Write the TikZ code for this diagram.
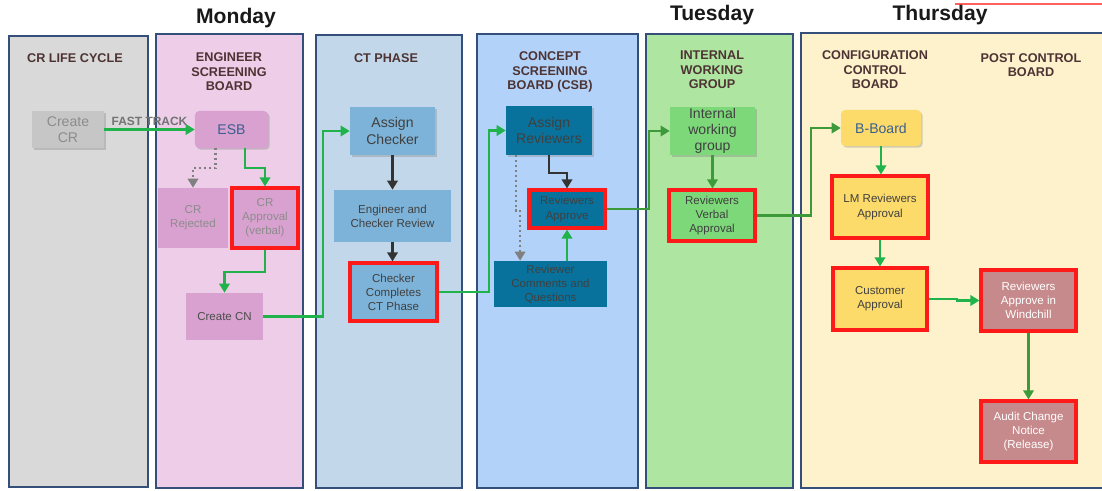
\documentclass[tikz,border=0pt]{standalone}
\usepackage{fontspec}
\setmainfont{Liberation Sans}
\usetikzlibrary{arrows.meta,shadows}

\definecolor{laneedge}{HTML}{34507A}
\definecolor{lanegray}{HTML}{D9D9D9}
\definecolor{lanepink}{HTML}{EDCDE8}
\definecolor{lanect}{HTML}{C3D7EB}
\definecolor{lanecsb}{HTML}{B2D2FA}
\definecolor{laneiwg}{HTML}{AEE5A0}
\definecolor{lanethu}{HTML}{FDF2CC}
\definecolor{titlebrown}{HTML}{4D3333}
\definecolor{nodegray}{HTML}{C6C6C6}
\definecolor{nodepink}{HTML}{D9A1D0}
\definecolor{nodeblue}{HTML}{7DB3D8}
\definecolor{nodeteal}{HTML}{08729C}
\definecolor{nodegreen}{HTML}{7DD87A}
\definecolor{nodeyellow}{HTML}{FCDB6B}
\definecolor{noderose}{HTML}{C78A8C}
\definecolor{hotred}{HTML}{FF1A1A}
\definecolor{arrowgreen}{HTML}{20B24B}
\definecolor{arrowdkgreen}{HTML}{3D9A3A}
\definecolor{arrowdark}{HTML}{333333}
\definecolor{esbtext}{HTML}{3A5F8F}

\begin{document}
\begin{tikzpicture}[x=0.025cm,y=-0.025cm,>={Triangle[width=7.5pt,length=6.5pt]},
    lane/.style={draw=laneedge,line width=0.9pt,drop shadow={shadow xshift=1pt,shadow yshift=-1pt,opacity=0.3}},
    title/.style={text=titlebrown,font=\bfseries\fontsize{9}{10.3}\selectfont,align=center},
    day/.style={font=\bfseries\fontsize{15}{16}\selectfont,text=black!90},
    box/.style={align=center,inner sep=1pt,font=\fontsize{8.2}{10}\selectfont},
    bigbox/.style={box,font=\fontsize{10}{11.5}\selectfont},
    hot/.style={draw=hotred,line width=2.2pt},
    shade/.style={drop shadow={shadow xshift=1.2pt,shadow yshift=-1.2pt,opacity=0.35}},
    gline/.style={->,draw=arrowgreen,line width=1.5pt},
    dgline/.style={->,draw=arrowdkgreen,line width=1.5pt},
    kline/.style={->,draw=arrowdark,line width=1.5pt},
    dotline/.style={->,draw=gray,line width=1.5pt,dotted}]

  \useasboundingbox (0,0) rectangle (1102,491);
  \draw[hotred!70,line width=0.8pt] (955,4) -- (1102,4);

  % swim lanes
  \path[lane,fill=lanegray] (9,36) rectangle (148,487);
  \path[lane,fill=lanepink] (156,34) rectangle (303,488);
  \path[lane,fill=lanect] (316,35) rectangle (462,488);
  \path[lane,fill=lanecsb] (477,34) rectangle (638,488);
  \path[lane,fill=laneiwg] (646,34) rectangle (793,488);
  \path[lane,fill=lanethu] (801,33) rectangle (1110,488);

  % days
  \node[day] (mon) at (236,18) {Monday};
  \node[day] (tue) at (712,15) {Tuesday};
  \node[day] (thu) at (940,15) {Thursday};

  % lane titles
  \node[title] (tcr) at (75,58) {CR LIFE CYCLE};
  \node[title] (tesb) at (229,72) {ENGINEER\\SCREENING\\BOARD};
  \node[title] (tct) at (386,58) {CT PHASE};
  \node[title] (tcsb) at (550,72) {CONCEPT\\SCREENING\\BOARD (CSB)};
  \node[title] (tiwg) at (712,70) {INTERNAL\\WORKING\\GROUP};
  \node[title] (tccb) at (875,70) {CONFIGURATION\\CONTROL\\BOARD};
  \node[title] (tpcb) at (1031,65) {POST CONTROL\\BOARD};

  % steps
  \node[bigbox,shade,fill=nodegray,text=black!45,minimum width=1.8cm,minimum height=0.925cm] (createcr) at (68,129.5) {Create\\CR};
  \node[bigbox,shade,fill=nodepink,text=esbtext,rounded corners=3pt,minimum width=1.825cm,minimum height=0.925cm] (esb) at (231.5,129.5) {ESB};
  \node[box,fill=nodepink,text=black!45,minimum width=1.75cm,minimum height=1.5cm] (rejected) at (193,218) {CR\\Rejected};
  \node[box,hot,fill=nodepink,text=black!45,minimum width=1.65cm,minimum height=1.5cm] (approval) at (265,218) {CR\\Approval\\(verbal)};
  \node[box,fill=nodepink,text=black!70,minimum width=1.925cm,minimum height=1.175cm] (createcn) at (224.5,316.5) {Create CN};

  \node[bigbox,shade,fill=nodeblue,text=black!75,minimum width=2.125cm,minimum height=1.2cm] (assignchk) at (392.5,131) {Assign\\Checker};
  \node[box,fill=nodeblue,text=black!75,minimum width=2.925cm,minimum height=1.3cm] (ecreview) at (392.5,216) {Engineer and\\Checker Review};
  \node[box,hot,fill=nodeblue,text=black!75,minimum width=2.175cm,minimum height=1.45cm] (completes) at (393.5,292) {Checker\\Completes\\CT Phase};

  \node[bigbox,shade,fill=nodeteal,text=black!75,minimum width=2.15cm,minimum height=1.225cm] (assignrev) at (549,130.5) {Assign\\Reviewers};
  \node[box,hot,fill=nodeteal,text=black!75,minimum width=1.9cm,minimum height=0.95cm] (revapprove) at (567,209) {Reviewers\\Approve};
  \node[box,fill=nodeteal,text=black!75,minimum width=2.825cm,minimum height=1.15cm] (comments) at (550.5,284) {Reviewer\\Comments and\\Questions};

  \node[bigbox,shade,fill=nodegreen,text=black!75,minimum width=2.125cm,minimum height=1.2cm] (iwg) at (712.5,131) {Internal\\working\\group};
  \node[box,hot,fill=nodegreen,text=black!75,minimum width=2.15cm,minimum height=1.275cm] (verbal) at (712,215.5) {Reviewers\\Verbal\\Approval};

  \node[bigbox,shade,fill=nodeyellow,text=esbtext,rounded corners=3pt,minimum width=2.0cm,minimum height=0.9cm] (bboard) at (881,128) {B-Board};
  \node[box,hot,fill=nodeyellow,text=black!75,minimum width=2.4cm,minimum height=1.55cm] (lmapproval) at (880,207) {LM Reviewers\\Approval};
  \node[box,hot,fill=nodeyellow,text=black!75,minimum width=2.35cm,minimum height=1.55cm] (customer) at (880,299) {Customer\\Approval};
  \node[box,hot,fill=noderose,text=white,minimum width=2.375cm,minimum height=1.525cm] (windchill) at (1028.5,300.5) {Reviewers\\Approve in\\Windchill};
  \node[box,hot,fill=noderose,text=white,minimum width=2.375cm,minimum height=1.525cm] (audit) at (1028.5,431.5) {Audit Change\\Notice\\(Release)};

  % flow
  \draw[gline] (createcr.east) -- node[above=-1pt,text=black!55,font=\bfseries\fontsize{8.5}{10}\selectfont] {FAST TRACK} (esb.west);
  \draw[dotline] ([xshift=-0.4cm]esb.south) -- ++(0,20) -| (rejected.north);
  \draw[gline] ([xshift=0.34cm]esb.south) -- ++(0,20) -| (approval.north);
  \draw[gline] (approval.south) -- ++(0,22) -| (createcn.north);
  \draw[gline] (createcn.east) -- ++(60,0) |- (assignchk.west);
  \draw[kline] (assignchk.south) -- (ecreview.north);
  \draw[kline] (ecreview.south) -- (ecreview.south |- completes.north);
  \draw[gline] (completes.east) -- ++(50,0) |- (assignrev.west);
  \draw[kline] (assignrev.south) -- ++(0,18) -| (revapprove.north);
  \draw[dotline] ([xshift=-0.825cm]assignrev.south) -- ++(0,56) -| ([xshift=-0.76cm]comments.north);
  \draw[gline] (revapprove.south |- comments.north) -- (revapprove.south);
  \draw[dgline] (revapprove.east) -- ++(42,0) |- (iwg.west);
  \draw[dgline] (iwg.south) -- (iwg.south |- verbal.north);
  \draw[dgline] (verbal.east) -- ++(54,0) |- (bboard.west);
  \draw[gline] (bboard.south) -- (bboard.south |- lmapproval.north);
  \draw[gline] (lmapproval.south) -- (customer.north);
  \draw[gline] (customer.east) -- ++(28,0) |- (windchill.west);
  \draw[dgline] (windchill.south) -- (audit.north);
\end{tikzpicture}
\end{document}
